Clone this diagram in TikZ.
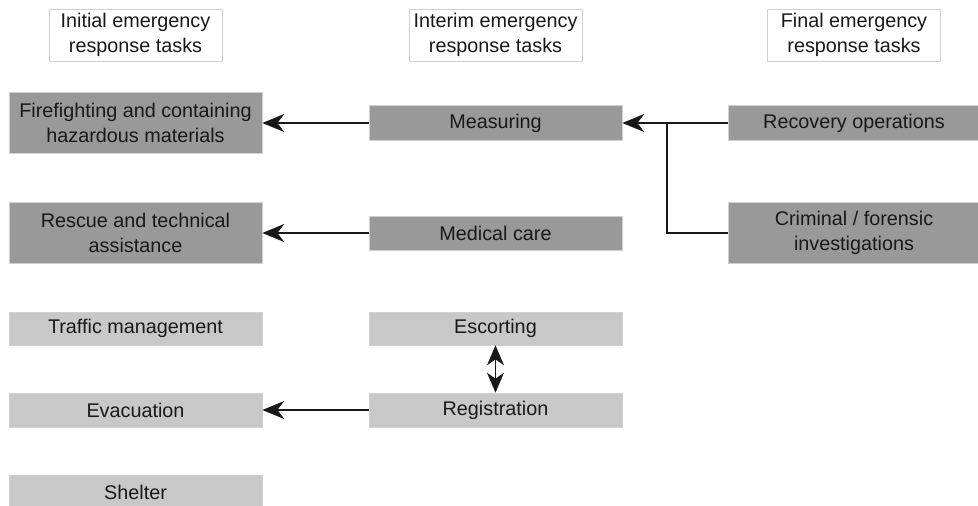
\documentclass[tikz,border=0pt]{standalone}
\usepackage{fontspec}
\setmainfont{Liberation Sans}
\usetikzlibrary{arrows.meta}
\definecolor{darkbox}{HTML}{999999}
\definecolor{lightbox}{HTML}{C8C8C8}
\definecolor{edgegray}{HTML}{D0D0D0}
\begin{document}
\begin{tikzpicture}[x=1pt,y=-1pt,
  every node/.style={font=\fontsize{19.8}{25}\selectfont, align=center, inner sep=0pt, text=black!90},
  header/.style={draw=edgegray, fill=white, line width=0.8pt, minimum width=173, minimum height=52},
  dark/.style={fill=darkbox, draw=edgegray, line width=0.6pt},
  light/.style={fill=lightbox, draw=edgegray, line width=0.6pt},
  link/.style={line width=1.8pt, draw=black!90, -{Stealth[length=22pt,width=18pt,inset=7pt]}},
  link2/.style={line width=1.8pt, draw=black!90, {Stealth[length=20pt,width=17pt,inset=6pt]}-{Stealth[length=20pt,width=17pt,inset=6pt]}},
  plain/.style={line width=1.8pt, draw=black!90}]
\useasboundingbox (0,0) rectangle (978,506);
% column headers
\node[header] (h1) at (135.5,35) {Initial emergency\\response tasks};
\node[header] (h2) at (495.5,35) {Interim emergency\\response tasks};
\node[header] (h3) at (854,35) {Final emergency\\response tasks};
% initial tasks
\node[dark, minimum width=253, minimum height=61] (fire) at (135.5,123) {Firefighting and containing\\hazardous materials};
\node[dark, minimum width=253, minimum height=61] (rescue) at (135.5,233) {Rescue and technical\\assistance};
\node[light, minimum width=253, minimum height=33] (traffic) at (135.5,328.5) {Traffic management};
\node[light, minimum width=253, minimum height=34] (evac) at (135.5,410) {Evacuation};
\node[light, minimum width=253, minimum height=34] (shelter) at (135.5,492) {Shelter};
% interim tasks
\node[dark, minimum width=253, minimum height=35] (meas) at (495.5,123) {Measuring};
\node[dark, minimum width=253, minimum height=34] (med) at (495.5,233) {Medical care};
\node[light, minimum width=253, minimum height=33] (esc) at (495.5,328.5) {Escorting};
\node[light, minimum width=253, minimum height=34] (reg) at (495.5,410) {Registration};
% final tasks
\node[dark, minimum width=252, minimum height=35] (rec) at (854,123) {Recovery operations};
\node[dark, minimum width=252, minimum height=61] (crim) at (854,233) {Criminal / forensic\\investigations};
% connectors
\coordinate (junc) at (667,123);
\draw[link] (meas.west) -- (fire.east);
\draw[link] (rec.west) -- (meas.east);
\draw[plain] (crim.west) -| (junc);
\draw[link] (med.west) -- (rescue.east |- med.west);
\draw[link] (reg.west) -- (evac.east);
\draw[link2] (esc.south) -- (reg.north);
\end{tikzpicture}
\end{document}
